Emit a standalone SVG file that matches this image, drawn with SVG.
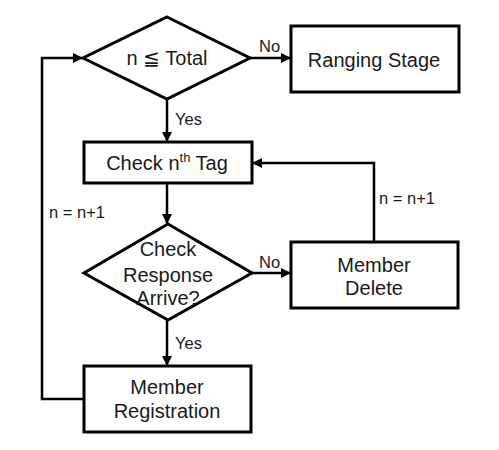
<svg xmlns="http://www.w3.org/2000/svg" width="499" height="450" viewBox="0 0 499 450">
<defs>
<marker id="ah" markerWidth="10" markerHeight="10" refX="9" refY="5" orient="auto" markerUnits="userSpaceOnUse">
<path d="M0,0 L10,5 L0,10 Z" fill="#000"/>
</marker>
<style>
.s{fill:#fff;stroke:#000;stroke-width:3}
.c{fill:none;stroke:#000;stroke-width:2.5}
text{font-family:"Liberation Sans",Arial,sans-serif;fill:#1a1a1a}
.t{font-size:20px;text-anchor:middle}
.l{font-size:16.5px}
</style>
</defs>
<rect width="499" height="450" fill="#fff"/>
<g id="connectors">
<path class="c" d="M250,58 H290" marker-end="url(#ah)"/>
<path class="c" d="M167,99 V141" marker-end="url(#ah)"/>
<path class="c" d="M167,183 V223" marker-end="url(#ah)"/>
<path class="c" d="M252,273 H290" marker-end="url(#ah)"/>
<path class="c" d="M167,320 V365" marker-end="url(#ah)"/>
<path class="c" d="M374,242 V163 H253" marker-end="url(#ah)"/>
<path class="c" d="M84,399 H42 V58 H82" marker-end="url(#ah)"/>
<text class="l" x="259" y="52">No</text>
<text class="l" x="175" y="125">Yes</text>
<text class="l" x="259" y="268">No</text>
<text class="l" x="175" y="349">Yes</text>
<text class="l" x="379" y="204">n = n+1</text>
<text class="l" x="49" y="218">n = n+1</text>
</g>
<g id="decision1">
<polygon class="s" points="167,17 250,58 167,99 83,58"/>
<text class="t" x="167" y="65">n ≦ Total</text>
</g>
<g id="ranging">
<rect class="s" x="291" y="26" width="168" height="66"/>
<text class="t" x="374" y="67">Ranging Stage</text>
</g>
<g id="checktag">
<rect class="s" x="84" y="142" width="168" height="41"/>
<text class="t" x="167" y="170">Check n<tspan font-size="13" dy="-8">th</tspan><tspan dy="8"> Tag</tspan></text>
</g>
<g id="decision2">
<polygon class="s" points="168,224 252,273 168,320 84,273"/>
<text class="t" x="168" y="256">Check</text>
<text class="t" x="168" y="282">Response</text>
<text class="t" x="168" y="305">Arrive?</text>
</g>
<g id="delete">
<rect class="s" x="291" y="242" width="167" height="66"/>
<text class="t" x="374" y="272">Member</text>
<text class="t" x="374" y="295">Delete</text>
</g>
<g id="registration">
<rect class="s" x="84" y="366" width="167" height="66"/>
<text class="t" x="167" y="394">Member</text>
<text class="t" x="167" y="418">Registration</text>
</g>
</svg>
